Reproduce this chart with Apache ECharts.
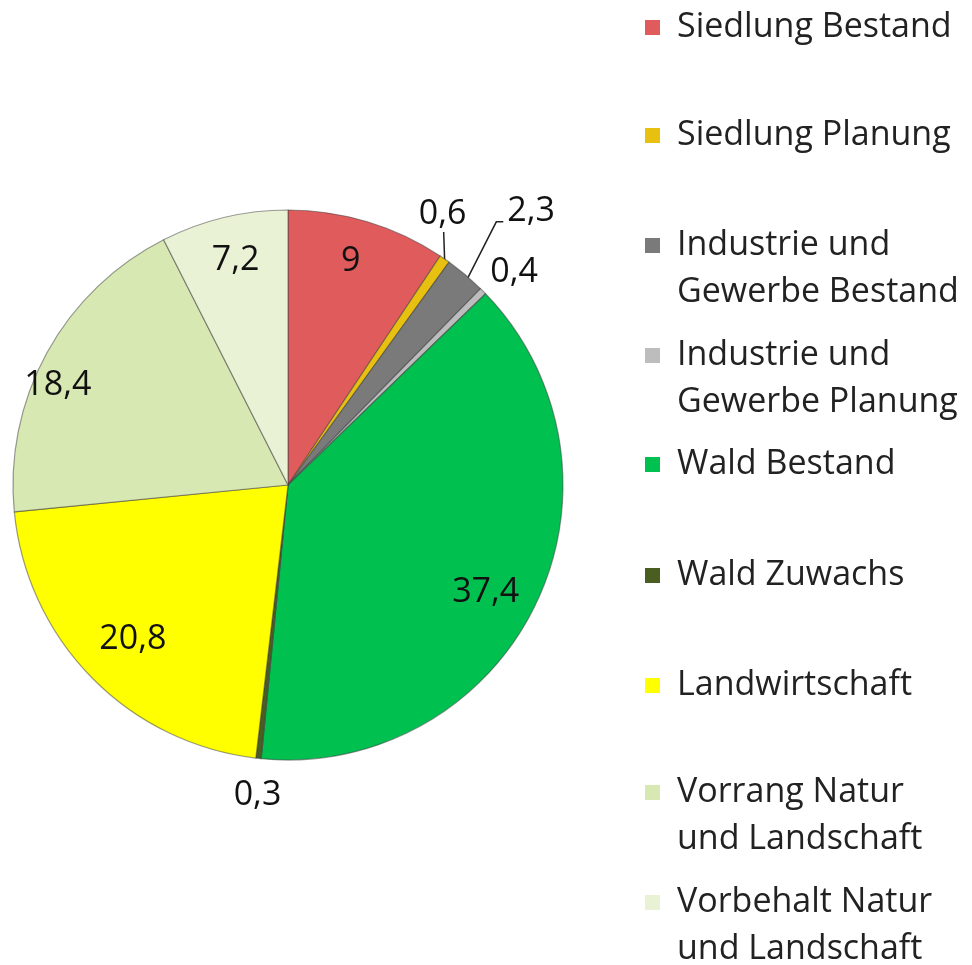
<!DOCTYPE html>
<html>
<head>
<meta charset="utf-8">
<script src="https://cdn.jsdelivr.net/npm/echarts@6/dist/echarts.min.js"></script>
<style>
  html, body { margin: 0; padding: 0; background: #fff; }
  #chart { width: 972px; height: 965px; }
</style>
</head>
<body>
<div id="chart"></div>
<script>
// Flächenanteile in %
const categories = [
    'Siedlung Bestand',
    'Siedlung Planung',
    'Industrie und\nGewerbe Bestand',
    'Industrie und\nGewerbe Planung',
    'Wald Bestand',
    'Wald Zuwachs',
    'Landwirtschaft',
    'Vorrang Natur\nund Landschaft',
    'Vorbehalt Natur\nund Landschaft'
];
const values = [9, 0.6, 2.3, 0.4, 37.4, 0.3, 20.8, 18.4, 7.2];
const colors = ['#df5b5c', '#e8c010', '#7a7a7a', '#bdbdbd', '#00c050', '#4a5e22', '#ffff00', '#d7e8b2', '#eaf2d6'];
// kleine Werte stehen außerhalb
const outsideLabels = [false, true, true, true, false, true, false, false, false];

const dom = document.getElementById('chart');
const myChart = echarts.init(dom);

const center = [288, 485];
const R = 275;
const font = '"Open Sans", Lato, sans-serif';

function fmt(v) {
    return String(v).replace('.', ',');
}

// Mittelwinkel jedes Segments (Grad, im Uhrzeigersinn ab 12 Uhr)
const total = values.reduce((a, b) => a + b, 0);
let acc = 0;
const midAngles = values.map(v => {
    const m = (acc + v / 2) / total * 360;
    acc += v;
    return m;
});
function edgePoint(i, r) {
    const a = midAngles[i] * Math.PI / 180;
    return [center[0] + r * Math.sin(a), center[1] - r * Math.cos(a)];
}

const pieData = values.map((v, i) => ({
    name: categories[i],
    value: v,
    itemStyle: { color: colors[i] },
    label: { show: outsideLabels[i] },
    labelLine: { show: i === 1 || i === 2 }
}));

// unsichtbarer Ring nur für die inneren Beschriftungen
const innerLabelData = values.map((v, i) => ({
    name: categories[i] + ' ',
    value: v,
    label: { show: !outsideLabels[i] }
}));

// eine Legende pro Eintrag, damit die Abstände wie im Original sind
const legendTops = [4, 112, 222, 332, 441, 552, 662, 769, 879];
const twoLineIcon = 'path://M0,0h15v15h-15zM0,61.9h0.1v0.1h-0.1z';
const legends = categories.map((c, i) => {
    const twoLine = c.indexOf('\n') >= 0;
    return {
        data: [c],
        orient: 'vertical',
        left: 645,
        top: legendTops[i],
        padding: 0,
        itemWidth: 15,
        itemHeight: twoLine ? 62 : 15,
        icon: twoLine ? twoLineIcon : 'rect',
        selectedMode: false,
        itemStyle: { borderWidth: 0 },
        textStyle: {
            fontFamily: font,
            fontSize: 34,
            color: '#222',
            lineHeight: 47,
            padding: [0, 0, 0, 12]
        }
    };
});

// Lage der Außenbeschriftungen relativ zum Segmentrand
function outerLayout(params) {
    const i = params.dataIndex;
    const e = edgePoint(i, R);
    if (i === 1) {
        return {
            x: e[0] - 2, y: e[1] - 45, align: 'center', verticalAlign: 'middle', hideOverlap: false,
            labelLinePoints: [[e[0], e[1] + 2], [e[0] - 1, e[1] - 27], [e[0] - 1, e[1] - 27]]
        };
    }
    if (i === 2) {
        return {
            x: e[0] + 42, y: e[1] - 63, align: 'left', verticalAlign: 'middle', hideOverlap: false,
            labelLinePoints: [[e[0] + 2, e[1] + 4], [e[0] + 31, e[1] - 53], [e[0] + 38, e[1] - 53]]
        };
    }
    if (i === 3) {
        return { x: e[0] + 31, y: e[1] - 19, align: 'center', verticalAlign: 'middle', hideOverlap: false };
    }
    if (i === 5) {
        return { x: e[0] - 1, y: e[1] + 37, align: 'center', verticalAlign: 'middle', hideOverlap: false };
    }
    return { hideOverlap: false };
}

// kleine Korrekturen der inneren Beschriftungen
const innerShift = {
    0: [-5, 0], 4: [-13, 6], 6: [12, -10], 7: [-25, 13], 8: [2, 3]
};
function innerLayout(params) {
    const s = innerShift[params.dataIndex] || [0, 0];
    return { dx: s[0], dy: s[1], hideOverlap: false };
}

const option = {
    animation: false,
    backgroundColor: '#fff',
    legend: legends,
    series: [
        {
            type: 'pie',
            center: center,
            radius: [0, R],
            startAngle: 90,
            clockwise: true,
            avoidLabelOverlap: false,
            silent: true,
            data: pieData,
            itemStyle: {
                borderColor: 'rgba(60,60,60,0.5)',
                borderWidth: 1.2
            },
            label: {
                position: 'outside',
                formatter: p => fmt(p.value),
                fontFamily: font,
                fontSize: 34,
                color: '#111'
            },
            labelLine: {
                length: 22,
                length2: 10,
                lineStyle: { color: '#222', width: 1.5 }
            },
            labelLayout: outerLayout
        },
        {
            type: 'pie',
            center: center,
            radius: [R * 0.68, R],
            startAngle: 90,
            clockwise: true,
            avoidLabelOverlap: false,
            silent: true,
            legendHoverLink: false,
            data: innerLabelData,
            itemStyle: { color: 'rgba(0,0,0,0)' },
            label: {
                position: 'inside',
                formatter: p => fmt(p.value),
                fontFamily: font,
                fontSize: 34,
                color: '#111'
            },
            labelLine: { show: false },
            labelLayout: innerLayout
        }
    ]
};
myChart.setOption(option);
</script>
</body>
</html>
